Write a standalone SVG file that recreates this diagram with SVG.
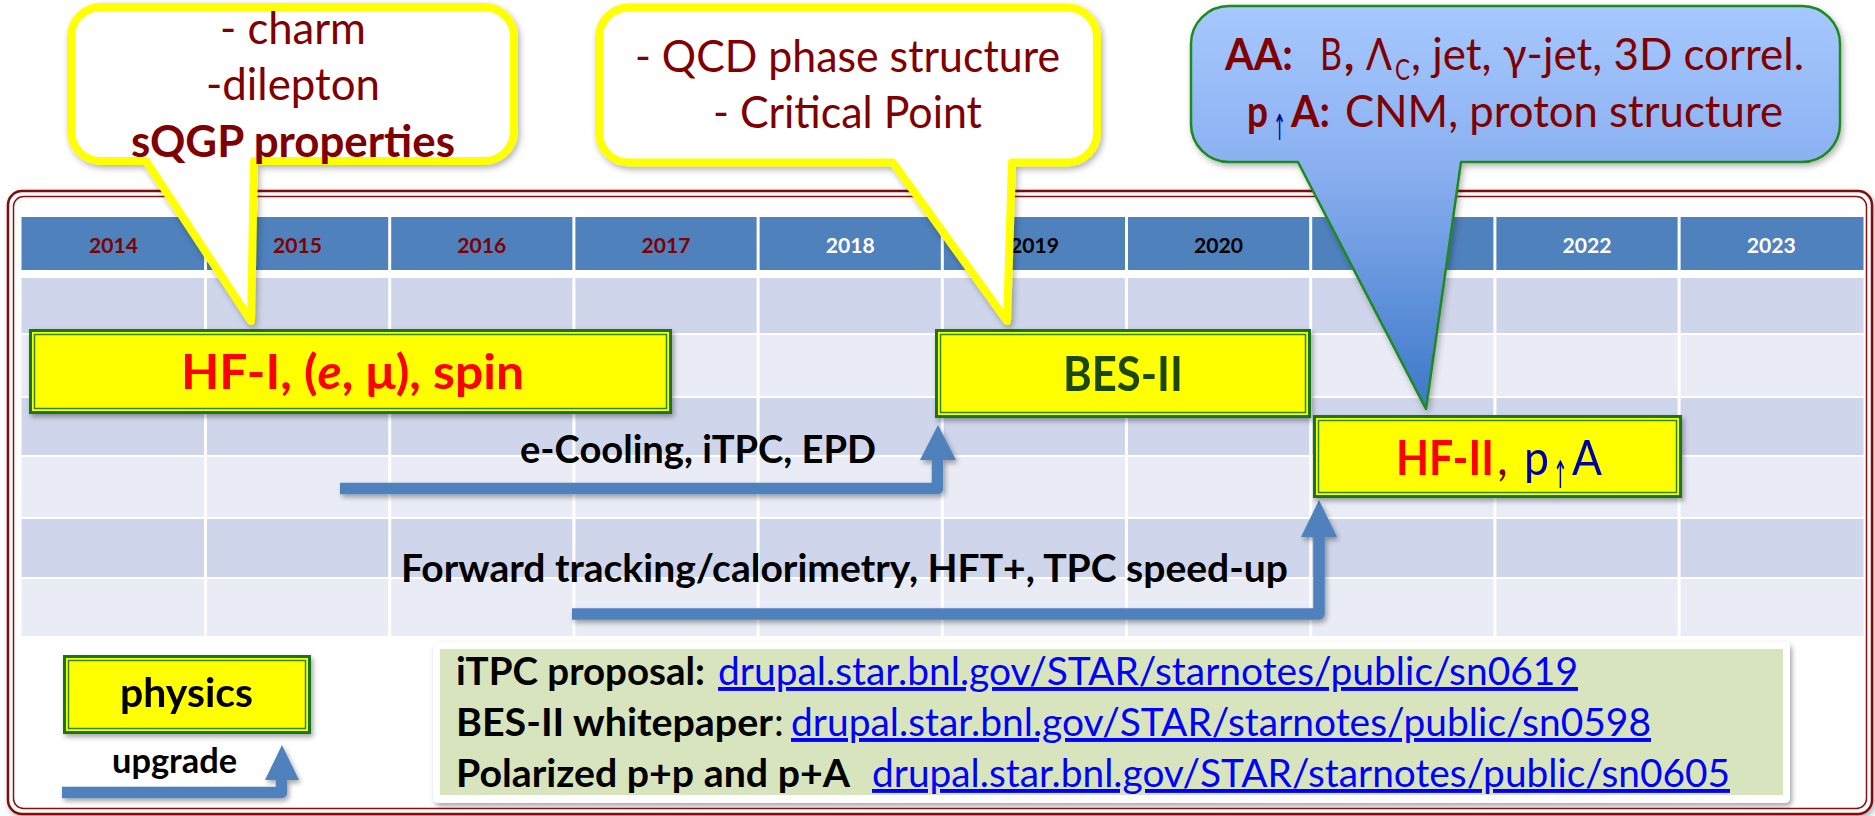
<svg xmlns="http://www.w3.org/2000/svg" width="1875" height="816" viewBox="0 0 1875 816">
<style>
.f{font-family:Lato,"Noto Sans","DejaVu Sans",sans-serif}
.b{font-weight:700}
.dr{fill:#800000}
.hdr{font-family:Lato,"Noto Sans",sans-serif;font-weight:700;font-size:21px}
.box{fill:#FFFF00;stroke:#16761A;stroke-width:3}
.boxin{fill:none;stroke:#2A8A2A;stroke-width:1.5}
.arr{fill:none;stroke:#4F81BD;stroke-width:11.5;stroke-linejoin:round;stroke-linecap:butt}
.head{fill:#4F81BD}
.sep{fill:#FFFFFF}
.dk{fill:#CFD5EA}
.lt{fill:#E9EBF5}
.link{fill:#0000FF;text-decoration:underline}
.arrow{font-family:"DejaVu Sans",sans-serif}
</style>
<defs>
<filter id="sh" x="-10%" y="-10%" width="125%" height="140%">
<feDropShadow dx="2" dy="3" stdDeviation="2.5" flood-color="#000" flood-opacity="0.35"/>
</filter>
<filter id="shc" x="-5%" y="-5%" width="115%" height="120%">
<feDropShadow dx="2" dy="3" stdDeviation="3" flood-color="#000" flood-opacity="0.3"/>
</filter>
<linearGradient id="blue" gradientUnits="userSpaceOnUse" x1="0" y1="6" x2="0" y2="410">
<stop offset="0" stop-color="#A6C8FF"/>
<stop offset="0.4" stop-color="#8AB0F0"/>
<stop offset="1" stop-color="#3C77C8"/>
</linearGradient>
</defs>

<!-- frame -->
<g id="frame">
<rect x="8" y="191" width="1864" height="623" rx="14" fill="#FFFFFF" stroke="#7E0A0A" stroke-width="2.5" filter="url(#shc)"/>
<rect x="13.5" y="196.5" width="1853" height="612" rx="10" fill="none" stroke="#8B1010" stroke-width="1.5"/>
</g>

<!-- table -->
<g id="table">
<rect x="21.5" y="217" width="1842" height="53" fill="#4F81BD"/>
<rect class="dk" x="21.5" y="278" width="1842" height="55"/>
<rect class="lt" x="21.5" y="335" width="1842" height="61"/>
<rect class="dk" x="21.5" y="398" width="1842" height="57"/>
<rect class="lt" x="21.5" y="457" width="1842" height="60"/>
<rect class="dk" x="21.5" y="519" width="1842" height="58"/>
<rect class="lt" x="21.5" y="579" width="1842" height="57"/>
<rect class="sep" x="204" y="217" width="3" height="419"/>
<rect class="sep" x="388.2" y="217" width="3" height="419"/>
<rect class="sep" x="572.4" y="217" width="3" height="419"/>
<rect class="sep" x="756.6" y="217" width="3" height="419"/>
<rect class="sep" x="940.8" y="217" width="3" height="419"/>
<rect class="sep" x="1125" y="217" width="3" height="419"/>
<rect class="sep" x="1309.2" y="217" width="3" height="419"/>
<rect class="sep" x="1493.4" y="217" width="3" height="419"/>
<rect class="sep" x="1677.6" y="217" width="3" height="419"/>
<text class="hdr dr" x="89" y="253" textLength="49" lengthAdjust="spacingAndGlyphs">2014</text>
<text class="hdr dr" x="273" y="253" textLength="49" lengthAdjust="spacingAndGlyphs">2015</text>
<text class="hdr dr" x="457.3" y="253" textLength="49" lengthAdjust="spacingAndGlyphs">2016</text>
<text class="hdr dr" x="641.5" y="253" textLength="49" lengthAdjust="spacingAndGlyphs">2017</text>
<text class="hdr" fill="#FFFFFF" x="825.7" y="253" textLength="49" lengthAdjust="spacingAndGlyphs">2018</text>
<text class="hdr" fill="#000000" x="1009.9" y="253" textLength="49" lengthAdjust="spacingAndGlyphs">2019</text>
<text class="hdr" fill="#000000" x="1194.1" y="253" textLength="49" lengthAdjust="spacingAndGlyphs">2020</text>
<text class="hdr" fill="#FFFFFF" x="1562.5" y="253" textLength="49" lengthAdjust="spacingAndGlyphs">2022</text>
<text class="hdr" fill="#FFFFFF" x="1746.8" y="253" textLength="49" lengthAdjust="spacingAndGlyphs">2023</text>
</g>

<!-- connectors -->
<g id="connectors">
<g filter="url(#sh)">
<path class="arr" d="M340 488.5 H937.5 V458"/>
<polygon class="head" points="920,460 956,460 938,425"/>
</g>
<text class="f b" x="520" y="463" font-size="39" fill="#000" textLength="356" lengthAdjust="spacingAndGlyphs">e-Cooling, iTPC, EPD</text>
<g filter="url(#sh)">
<path class="arr" d="M572 614 H1319 V535"/>
<polygon class="head" points="1301,537 1337,537 1319,500"/>
</g>
<text class="f b" x="401" y="582" font-size="39" fill="#000" textLength="887" lengthAdjust="spacingAndGlyphs">Forward tracking/calorimetry, HFT+, TPC speed-up</text>
</g>

<!-- physics boxes -->
<g id="hf1" filter="url(#sh)">
<rect class="box" x="30.5" y="330.5" width="640" height="82"/>
<rect class="boxin" x="34.5" y="334.5" width="632" height="74"/>
<text class="f b" x="181" y="389" font-size="48" fill="#FF0000" textLength="343" lengthAdjust="spacingAndGlyphs">HF-I, (<tspan font-style="italic">e</tspan>, μ), spin</text>
</g>
<g id="bes2" filter="url(#sh)">
<rect class="box" x="936.5" y="330.5" width="373" height="86"/>
<rect class="boxin" x="940.5" y="334.5" width="365" height="78"/>
<text class="f b" x="1063" y="391" font-size="48" fill="#1C460C" textLength="120" lengthAdjust="spacingAndGlyphs">BES-II</text>
</g>
<g id="hf2" filter="url(#sh)">
<rect class="box" x="1314.5" y="416.5" width="366" height="80"/>
<rect class="boxin" x="1318.5" y="420.5" width="358" height="72"/>
<text class="f" y="475" font-size="48"><tspan x="1396" font-weight="700" fill="#FF0000" textLength="98" lengthAdjust="spacingAndGlyphs">HF-II</tspan><tspan x="1497" fill="#800000">,</tspan><tspan x="1524" fill="#0000A0" textLength="25" lengthAdjust="spacingAndGlyphs">p</tspan><tspan class="arrow" x="1553" y="488" font-size="38" fill="#0000A0" textLength="15" lengthAdjust="spacingAndGlyphs">↑</tspan><tspan x="1572" y="475" fill="#0000A0" textLength="30" lengthAdjust="spacingAndGlyphs">A</tspan></text>
</g>

<!-- legend -->
<g id="legend-physics" filter="url(#sh)">
<rect class="box" x="64.5" y="656.5" width="245" height="76"/>
<rect class="boxin" x="68.5" y="660.5" width="237" height="68"/>
<text class="f b" x="120" y="707" font-size="41" fill="#000" textLength="133" lengthAdjust="spacingAndGlyphs">physics</text>
</g>
<g id="legend-upgrade">
<g filter="url(#sh)">
<path class="arr" d="M62 792.5 H281.5 V778"/>
<polygon class="head" points="265,780 299,780 282,745"/>
</g>
<text class="f b" x="112" y="773" font-size="34" fill="#000" textLength="125" lengthAdjust="spacingAndGlyphs">upgrade</text>
</g>

<!-- references -->
<g id="refs">
<rect x="433" y="642" width="1357" height="161" rx="5" fill="#FFFFFF" filter="url(#sh)"/>
<rect x="440" y="649" width="1343" height="146" fill="#D7E4BD"/>
<text class="f b" x="456" y="685" font-size="39" fill="#000" textLength="249" lengthAdjust="spacingAndGlyphs">iTPC proposal:</text>
<text class="f link" x="718" y="685" font-size="39" textLength="860" lengthAdjust="spacingAndGlyphs">drupal.star.bnl.gov/STAR/starnotes/public/sn0619</text>
<text class="f" y="736" font-size="39" fill="#000"><tspan x="456" font-weight="700" textLength="317" lengthAdjust="spacingAndGlyphs">BES-II whitepaper</tspan><tspan x="774">:</tspan></text>
<text class="f link" x="791" y="736" font-size="39" textLength="860" lengthAdjust="spacingAndGlyphs">drupal.star.bnl.gov/STAR/starnotes/public/sn0598</text>
<text class="f b" x="456" y="787" font-size="39" fill="#000" textLength="394" lengthAdjust="spacingAndGlyphs">Polarized p+p and p+A</text>
<text class="f link" x="872" y="787" font-size="39" textLength="858" lengthAdjust="spacingAndGlyphs">drupal.star.bnl.gov/STAR/starnotes/public/sn0605</text>
</g>

<!-- callouts -->
<g id="callout-hf1">
<path d="M101 7 H484 A30 30 0 0 1 514 37 V131 A30 30 0 0 1 484 161 H254 L251 321 L146 161 H101 A30 30 0 0 1 71 131 V37 A30 30 0 0 1 101 7 Z" fill="#FFFFFF" stroke="#FFFF00" stroke-width="8" stroke-linejoin="round" filter="url(#shc)"/>
<text class="f dr" x="220" y="44" font-size="44" textLength="146" lengthAdjust="spacingAndGlyphs">- charm</text>
<text class="f dr" x="206" y="100" font-size="44" textLength="174" lengthAdjust="spacingAndGlyphs">-dilepton</text>
<text class="f b dr" x="131" y="157" font-size="44" textLength="324" lengthAdjust="spacingAndGlyphs">sQGP properties</text>
</g>
<g id="callout-bes">
<path d="M629 7.5 H1067 A30 30 0 0 1 1097 37.5 V132.5 A30 30 0 0 1 1067 162.5 H1012 L1007 321 L893 162.5 H629 A30 30 0 0 1 599 132.5 V37.5 A30 30 0 0 1 629 7.5 Z" fill="#FFFFFF" stroke="#FFFF00" stroke-width="8" stroke-linejoin="round" filter="url(#shc)"/>
<text class="f dr" x="635" y="72" font-size="44" textLength="425" lengthAdjust="spacingAndGlyphs">- QCD phase structure</text>
<text class="f dr" x="713" y="128" font-size="44" textLength="269" lengthAdjust="spacingAndGlyphs">- Critical Point</text>
</g>
<g id="callout-hf2">
<path d="M1229 6 H1802 A38 38 0 0 1 1840 44 V124 A38 38 0 0 1 1802 162 H1461 L1426 409 L1298 162 H1229 A38 38 0 0 1 1191 124 V44 A38 38 0 0 1 1229 6 Z" fill="url(#blue)" stroke="#1E8A1E" stroke-width="2.5" stroke-linejoin="round" filter="url(#shc)"/>
<text class="f dr" y="70" font-size="44"><tspan x="1225" font-weight="700" textLength="68" lengthAdjust="spacingAndGlyphs">AA:</tspan><tspan x="1320" textLength="22" lengthAdjust="spacingAndGlyphs">B</tspan><tspan x="1344" font-weight="700">,</tspan><tspan x="1366" textLength="26" lengthAdjust="spacingAndGlyphs">Λ</tspan><tspan x="1395" y="80" font-size="28" textLength="15" lengthAdjust="spacingAndGlyphs">C</tspan><tspan x="1411" y="70" textLength="393" lengthAdjust="spacingAndGlyphs">, jet, γ-jet, 3D correl.</tspan></text>
<text class="f dr" y="127" font-size="44"><tspan x="1247" font-weight="700" textLength="21" lengthAdjust="spacingAndGlyphs">p</tspan><tspan class="arrow" x="1273" y="140" font-size="36" fill="#00008B" textLength="13" lengthAdjust="spacingAndGlyphs">↑</tspan><tspan x="1291" y="127" font-weight="700" textLength="39" lengthAdjust="spacingAndGlyphs">A:</tspan><tspan x="1345" textLength="438" lengthAdjust="spacingAndGlyphs">CNM, proton structure</tspan></text>
</g>
</svg>
